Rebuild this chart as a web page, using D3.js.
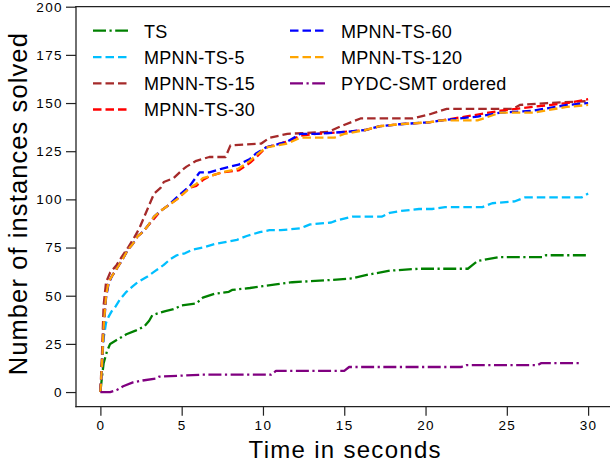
<!DOCTYPE html>
<html>
<head>
<meta charset="utf-8">
<script src="https://cdn.jsdelivr.net/npm/d3@7"></script>
<style>
  html, body { margin: 0; padding: 0; background: #fff; }
  svg { display: block; }
  text { font-family: "Liberation Sans", Arial, sans-serif; fill: #000; }
</style>
</head>
<body>
<svg id="chart" width="610" height="461"></svg>
<script>
// ---------------- data ----------------
const seriesNames = ["TS", "MPNN-TS-5", "MPNN-TS-15", "MPNN-TS-30", "MPNN-TS-60", "MPNN-TS-120", "PYDC-SMT ordered"];
const seriesColors = ["#008000", "#00bfff", "#a52a2a", "#ff0000", "#0000ff", "#ffa500", "#800080"];
const seriesStyles = ["dashdot", "dashed", "dashed", "dashed", "dashed", "dashed", "dashdot"];

const tsTime   = [0, 0.1, 0.2, 0.4, 0.6, 1, 1.6, 2.2, 2.7, 3, 3.2, 4, 4.5, 5, 5.9, 6.3, 7, 7.9, 8.1, 9.2, 10, 10.9, 11.8, 13.9, 15.5, 16.5, 17.8, 19.6, 22.6, 22.9, 23.2, 24.5, 27.2, 27.4, 30];
const tsSolved = [0, 8, 15, 21, 25, 27, 30, 32, 34, 37, 40, 42, 43, 45, 46, 49, 51, 52, 53, 54, 55, 56, 57, 58, 59, 61, 63, 64, 64, 66, 68, 70, 70, 71, 71];

const m5Time   = [0, 0.1, 0.2, 0.35, 0.5, 0.7, 0.9, 1.2, 1.6, 2, 2.3, 2.9, 3.4, 3.9, 4.3, 4.7, 5.2, 5.7, 6.3, 7.1, 7.8, 8.4, 9, 9.8, 10.4, 11.1, 12.3, 12.6, 12.9, 14.2, 14.5, 15.5, 17.3, 17.8, 18.5, 19.6, 20.4, 21.2, 23.5, 24.1, 25.5, 26.1, 29.6, 30];
const m5Solved = [0, 15, 28, 36, 39, 42, 44, 48, 52, 55, 57, 60, 63, 66, 69, 71, 72, 74, 75, 77, 78, 79, 81, 83, 84, 84, 85, 86, 87, 88, 89, 91, 91, 93, 94, 95, 95, 96, 96, 98, 99, 101, 101, 103];

const m15Time   = [0, 0.1, 0.2, 0.35, 0.6, 1, 1.3, 1.7, 2, 2.4, 2.7, 3, 3.3, 3.7, 3.9, 4.5, 5, 5.3, 5.9, 6.7, 7.7, 8, 9.9, 10.4, 11.5, 14, 14.8, 15.4, 16, 19.2, 20.2, 21.3, 25.4, 25.8, 27.5, 30];
const m15Solved = [0, 20, 45, 57, 62, 66, 70, 75, 79, 85, 91, 97, 103, 106, 109, 111, 115, 117, 120, 122, 122, 128, 129, 132, 134, 135, 138, 140, 142, 142, 144, 147, 147, 149, 150, 151];

const m30Time   = [0, 0.1, 0.2, 0.35, 0.5, 0.7, 1, 1.3, 1.7, 2, 2.3, 2.6, 2.9, 3.3, 3.7, 4.2, 4.7, 5.1, 5.5, 5.9, 6.3, 6.7, 7.5, 8.5, 9.2, 9.6, 10.2, 11.5, 12.3, 13.3, 15, 16.3, 17.2, 18.4, 20.2, 21, 23.2, 24.6, 26.6, 28.7, 30];
const m30Solved = [0, 15, 35, 50, 57, 60, 64, 68, 74, 77, 81, 83, 86, 90, 94, 97, 100, 103, 106, 107, 110, 112, 114, 115, 119, 122, 127, 130, 133, 134, 135, 136, 138, 139, 140, 141, 144, 146, 148, 150, 152];

const m60Time   = [0, 0.1, 0.2, 0.35, 0.5, 0.7, 1, 1.3, 1.7, 2, 2.3, 2.6, 2.9, 3.3, 3.7, 4.2, 4.7, 5.1, 5.5, 6.1, 6.7, 7.5, 8.5, 9.2, 9.6, 10.2, 11.5, 12.3, 13.3, 15, 16.3, 17.2, 18.4, 20.2, 21, 23.2, 24.6, 26.6, 28.7, 30];
const m60Solved = [0, 13, 33, 49, 56, 60, 64, 68, 74, 77, 81, 83, 86, 91, 94, 97, 101, 104, 107, 114, 114, 116, 118, 121, 124, 127, 130, 134, 134, 135, 136, 138, 139, 140, 141, 143, 145, 146, 149, 150];

const m120Time   = [0, 0.1, 0.2, 0.35, 0.5, 0.7, 1, 1.3, 1.7, 2, 2.3, 2.6, 2.9, 3.3, 3.7, 4.2, 4.7, 5.1, 5.5, 5.9, 6.3, 6.7, 7.5, 8.5, 9.2, 9.6, 10.2, 11.5, 12.3, 14.4, 15, 16.3, 17.2, 18.4, 20.2, 21, 23.2, 24.6, 26.6, 28.7, 30];
const m120Solved = [0, 14, 34, 50, 57, 60, 64, 68, 74, 77, 81, 83, 86, 91, 94, 97, 100, 103, 106, 108, 111, 112, 114, 116, 120, 123, 127, 129, 132, 132, 134, 136, 138, 139, 140, 141, 141, 145, 145, 148, 149];

const pyTime   = [0, 0.6, 1, 1.4, 2, 2.6, 3.4, 3.6, 6.2, 10.5, 10.8, 15, 15.3, 22.2, 22.5, 26.9, 27.1, 29.6];
const pySolved = [0, 0, 1, 3, 5, 6, 7, 8, 9, 9, 11, 11, 13, 13, 14, 14, 15, 15];

const xTicks = [0, 5, 10, 15, 20, 25, 30];
const yTicks = [0, 25, 50, 75, 100, 125, 150, 175, 200];
const xLabel = "Time in seconds";
const yLabel = "Number of instances solved";

// ---------------- build ----------------
const seriesTimes = [tsTime, m5Time, m15Time, m30Time, m60Time, m120Time, pyTime];
const seriesVals  = [tsSolved, m5Solved, m15Solved, m30Solved, m60Solved, m120Solved, pySolved];
const series = seriesNames.map((name, i) => ({
  name, color: seriesColors[i], style: seriesStyles[i],
  points: seriesTimes[i].map((t, j) => ({ t, v: seriesVals[i][j] }))
}));

const svg = d3.select("#chart");
const mLeft = 76, mRight = 612.5, mTop = 6.7, mBottom = 406.7;

const x = d3.scaleLinear().domain([-1.5, 31.5]).range([mLeft, mRight]);
const y = d3.scaleLinear().domain([-7.6, 200]).range([mBottom, mTop]);

const LW = 2.3;
const dashArr = { dashed: "8.5,4", dashdot: "13,3.5,2.2,3.5" };

// lines
const line = d3.line().x(d => x(d.t)).y(d => y(d.v)).curve(d3.curveLinear);
svg.append("clipPath").attr("id", "clip")
  .append("rect").attr("x", mLeft).attr("y", mTop).attr("width", mRight - mLeft).attr("height", mBottom - mTop);
const gLines = svg.append("g").attr("clip-path", "url(#clip)");
series.forEach(s => {
  gLines.append("path")
    .datum(s.points)
    .attr("d", line)
    .attr("fill", "none")
    .attr("stroke", s.color)
    .attr("stroke-width", LW)
    .attr("stroke-dasharray", dashArr[s.style])
    .attr("stroke-linejoin", "round");
});

// axes
const xAxis = d3.axisBottom(x).tickValues(xTicks).tickSize(9).tickPadding(5).tickFormat(d3.format("d"));
const yAxis = d3.axisLeft(y).tickValues(yTicks).tickSize(10).tickPadding(3).tickFormat(d3.format("d"));

const gx = svg.append("g").attr("transform", `translate(0,${mBottom})`).call(xAxis);
const gy = svg.append("g").attr("transform", `translate(${mLeft},0)`).call(yAxis);
[gx, gy].forEach(g => {
  g.select(".domain").remove();
  g.selectAll(".tick line").attr("stroke", "#222").attr("stroke-width", 1.2);
  g.selectAll(".tick text")
    .attr("fill", "#111")
    .style("font-family", "'Liberation Sans', Arial, sans-serif")
    .style("font-size", "13.5px")
    .style("letter-spacing", "1.4px");
});

// spines: left, top, bottom (right one lies beyond the window)
const spine = (x1, y1, x2, y2) => svg.append("line")
  .attr("x1", x1).attr("y1", y1).attr("x2", x2).attr("y2", y2)
  .attr("stroke", "#222").attr("stroke-width", 1.3).attr("stroke-linecap", "square");
spine(mLeft, mTop, 610, mTop);
spine(mLeft, mBottom, 610, mBottom);
spine(mLeft, mTop, mLeft, mBottom);

// axis labels
svg.append("text")
  .attr("x", (mLeft + mRight) / 2 + 1).attr("y", 457.5)
  .attr("text-anchor", "middle")
  .style("font-size", "24px").style("letter-spacing", "1.3px")
  .text(xLabel);

svg.append("text")
  .attr("transform", `translate(27,${(mTop + mBottom) / 2 - 3}) rotate(-90)`)
  .attr("text-anchor", "middle")
  .style("font-size", "25.5px").style("letter-spacing", "1.1px")
  .text(yLabel);

// legend
const rowY = [30.7, 57.1, 83.3, 109.5];
const legendCols = [{ hx: 93, tx: 144 }, { hx: 290, tx: 341 }];
series.forEach((s, i) => {
  const col = i < 4 ? 0 : 1;
  const row = i < 4 ? i : i - 4;
  const c = legendCols[col], yy = rowY[row];
  svg.append("line")
    .attr("x1", c.hx).attr("x2", c.hx + 35)
    .attr("y1", yy).attr("y2", yy)
    .attr("stroke", s.color).attr("stroke-width", LW)
    .attr("stroke-dasharray", dashArr[s.style]);
  svg.append("text")
    .attr("x", c.tx).attr("y", yy + 6.8)
    .style("font-size", "18px")
    .style("letter-spacing", "0.3px")
    .text(s.name);
});
</script>
</body>
</html>
